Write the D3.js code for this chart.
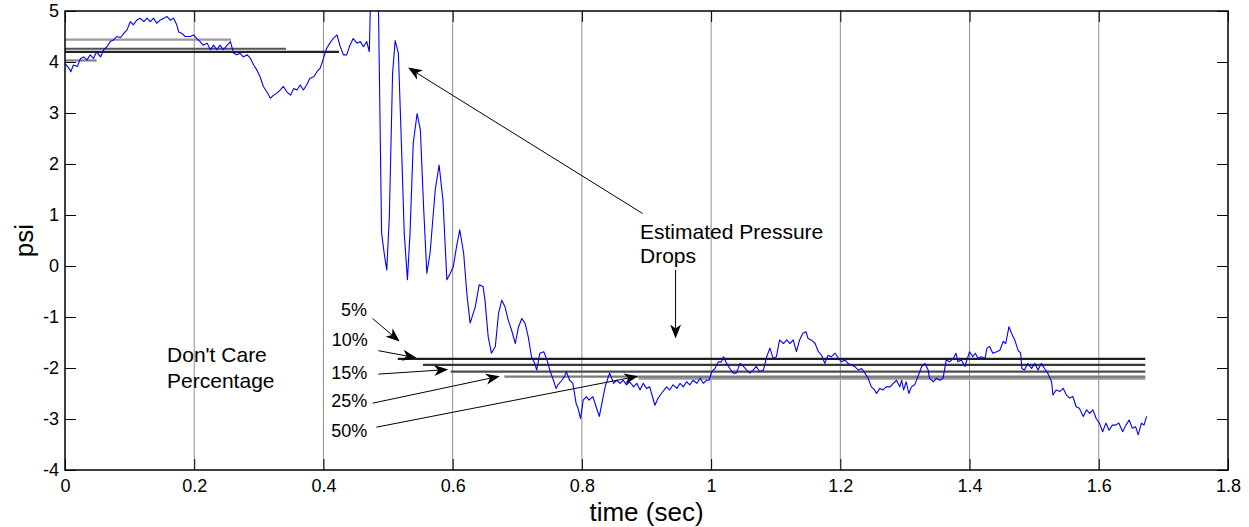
<!DOCTYPE html>
<html>
<head>
<meta charset="utf-8">
<script src="https://cdn.jsdelivr.net/npm/d3@7"></script>
<style>
  html, body { margin: 0; padding: 0; background: #fff; }
  svg { display: block; font-family: "Liberation Sans", Arial, sans-serif; }
</style>
</head>
<body>
<div id="chart"></div>
<script>
// axis ticks
const xTicks = [0, 0.2, 0.4, 0.6, 0.8, 1, 1.2, 1.4, 1.6, 1.8];
const xTickLabels = ["0", "0.2", "0.4", "0.6", "0.8", "1", "1.2", "1.4", "1.6", "1.8"];
const yTicks = [-4, -3, -2, -1, 0, 1, 2, 3, 4, 5];
const yTickLabels = ["-4", "-3", "-2", "-1", "0", "1", "2", "3", "4", "5"];

// measured pressure trace [time (sec), psi]
const pressureTrace = [
  [0.000,3.97],[0.006,3.88],[0.009,3.81],[0.013,3.94],[0.019,3.91],[0.024,4.07],[0.029,4.10],[0.034,4.04],
  [0.039,4.14],[0.044,4.07],[0.049,4.20],[0.055,4.10],[0.060,4.24],[0.065,4.30],[0.070,4.40],[0.075,4.43],
  [0.080,4.50],[0.086,4.48],[0.091,4.56],[0.096,4.63],[0.101,4.79],[0.106,4.73],[0.111,4.82],[0.116,4.86],
  [0.122,4.79],[0.127,4.86],[0.132,4.79],[0.137,4.86],[0.142,4.76],[0.147,4.82],[0.153,4.86],[0.158,4.89],
  [0.163,4.82],[0.168,4.86],[0.173,4.73],[0.176,4.59],[0.181,4.56],[0.186,4.50],[0.194,4.50],[0.199,4.53],
  [0.204,4.46],[0.209,4.40],[0.214,4.33],[0.220,4.37],[0.225,4.24],[0.230,4.33],[0.235,4.24],[0.240,4.33],
  [0.245,4.24],[0.251,4.33],[0.256,4.40],[0.261,4.17],[0.266,4.14],[0.271,4.17],[0.276,4.10],[0.282,4.14],
  [0.287,4.07],[0.292,3.94],[0.297,3.84],[0.302,3.71],[0.307,3.52],[0.312,3.42],[0.318,3.29],[0.323,3.35],
  [0.328,3.39],[0.333,3.45],[0.338,3.52],[0.343,3.42],[0.349,3.35],[0.354,3.48],[0.359,3.45],[0.364,3.55],
  [0.369,3.45],[0.374,3.55],[0.379,3.68],[0.385,3.71],[0.390,3.81],[0.395,3.88],[0.400,4.07],[0.405,4.27],
  [0.410,4.37],[0.415,4.46],[0.421,4.53],[0.426,4.30],[0.431,4.14],[0.436,4.14],[0.441,4.33],[0.446,4.46],
  [0.452,4.37],[0.457,4.40],[0.462,4.30],[0.467,4.40],[0.471,4.20],
  [0.474,5.90],[0.480,6.20],[0.485,5.20],[0.490,0.65],[0.494,0.25],[0.498,-0.08],[0.502,0.97],[0.507,3.78],
  [0.511,4.42],[0.516,4.17],[0.521,2.27],[0.525,0.65],[0.530,-0.27],[0.534,0.65],[0.539,2.41],[0.545,2.99],
  [0.550,2.67],[0.555,1.16],[0.560,-0.14],[0.565,0.25],[0.573,1.49],[0.579,1.98],[0.585,1.29],[0.591,-0.27],
  [0.596,-0.15],[0.601,-0.01],[0.606,0.38],[0.611,0.71],[0.617,0.25],[0.622,-0.55],[0.627,-1.12],[0.635,-0.80],
  [0.641,-0.37],[0.647,-0.40],[0.650,-0.67],[0.655,-1.39],[0.660,-1.71],[0.666,-1.58],[0.671,-0.93],[0.676,-0.67],
  [0.681,-0.80],[0.686,-1.06],[0.691,-1.25],[0.697,-1.52],[0.702,-1.19],[0.707,-1.03],[0.712,-1.12],[0.717,-1.39],
  [0.722,-1.78],[0.727,-1.91],[0.730,-2.04],[0.735,-1.71],[0.741,-1.68],[0.746,-1.84],[0.751,-2.07],[0.756,-2.24],
  [0.760,-2.40],[0.763,-2.33],[0.769,-2.24],[0.773,-2.17],[0.776,-2.07],[0.781,-2.24],[0.786,-2.30],[0.791,-2.69],
  [0.794,-2.79],[0.798,-2.99],[0.802,-2.63],[0.807,-2.56],[0.811,-2.63],[0.817,-2.56],[0.822,-2.76],[0.827,-2.95],
  [0.831,-2.69],[0.836,-2.37],[0.841,-2.17],[0.843,-2.10],[0.849,-2.30],[0.854,-2.24],[0.859,-2.30],[0.864,-2.24],
  [0.869,-2.33],[0.874,-2.27],[0.880,-2.37],[0.885,-2.30],[0.890,-2.43],[0.895,-2.30],[0.900,-2.40],[0.905,-2.37],
  [0.913,-2.73],[0.918,-2.59],[0.923,-2.50],[0.931,-2.37],[0.936,-2.43],[0.941,-2.33],[0.947,-2.40],[0.952,-2.30],
  [0.957,-2.37],[0.962,-2.27],[0.967,-2.33],[0.972,-2.24],[0.978,-2.30],[0.983,-2.20],[0.988,-2.30],[0.993,-2.24],
  [0.997,-2.24],[1.001,-2.07],[1.006,-2.01],[1.011,-1.88],[1.016,-1.88],[1.019,-1.78],[1.024,-1.91],[1.029,-2.01],
  [1.034,-2.10],[1.039,-2.10],[1.045,-1.91],[1.050,-1.97],[1.055,-2.04],[1.060,-2.10],[1.065,-2.04],[1.070,-1.97],
  [1.075,-2.07],[1.081,-2.04],[1.086,-1.78],[1.091,-1.61],[1.096,-1.81],[1.101,-1.78],[1.106,-1.45],[1.112,-1.52],
  [1.117,-1.45],[1.122,-1.52],[1.127,-1.45],[1.132,-1.68],[1.137,-1.45],[1.142,-1.32],[1.147,-1.29],[1.150,-1.42],
  [1.155,-1.45],[1.161,-1.52],[1.166,-1.68],[1.171,-1.75],[1.176,-1.91],[1.181,-1.75],[1.186,-1.78],[1.192,-1.71],
  [1.197,-1.81],[1.202,-1.88],[1.207,-1.84],[1.212,-1.91],[1.217,-1.94],[1.222,-1.97],[1.228,-2.04],[1.233,-2.01],
  [1.238,-2.10],[1.243,-2.20],[1.248,-2.37],[1.253,-2.43],[1.256,-2.50],[1.261,-2.40],[1.266,-2.43],[1.271,-2.37],
  [1.277,-2.37],[1.282,-2.30],[1.287,-2.24],[1.292,-2.37],[1.295,-2.24],[1.298,-2.43],[1.302,-2.27],[1.306,-2.50],
  [1.310,-2.37],[1.315,-2.33],[1.320,-2.17],[1.326,-1.97],[1.331,-1.91],[1.336,-2.04],[1.338,-2.20],[1.344,-2.27],
  [1.349,-2.20],[1.354,-2.24],[1.359,-2.20],[1.364,-1.84],[1.369,-1.88],[1.375,-1.81],[1.379,-1.71],[1.382,-1.88],
  [1.387,-1.84],[1.393,-1.97],[1.395,-1.88],[1.400,-1.68],[1.405,-1.78],[1.409,-1.71],[1.413,-1.81],[1.418,-1.78],
  [1.424,-1.81],[1.427,-1.61],[1.431,-1.58],[1.436,-1.71],[1.442,-1.68],[1.447,-1.65],[1.452,-1.48],[1.456,-1.52],
  [1.461,-1.19],[1.466,-1.35],[1.470,-1.45],[1.475,-1.65],[1.479,-1.71],[1.481,-2.01],[1.485,-2.04],[1.490,-1.91],
  [1.496,-2.01],[1.501,-1.91],[1.506,-2.04],[1.511,-1.91],[1.516,-2.01],[1.521,-2.10],[1.527,-2.27],[1.529,-2.53],
  [1.534,-2.43],[1.540,-2.46],[1.545,-2.40],[1.550,-2.53],[1.555,-2.59],[1.560,-2.56],[1.565,-2.76],[1.570,-2.79],
  [1.576,-2.95],[1.581,-2.82],[1.586,-2.89],[1.591,-2.82],[1.596,-2.99],[1.601,-3.08],[1.606,-3.25],[1.611,-3.08],
  [1.616,-3.22],[1.621,-3.12],[1.626,-3.12],[1.631,-3.08],[1.637,-3.25],[1.642,-3.12],[1.647,-3.02],[1.652,-3.18],
  [1.657,-3.15],[1.661,-3.31],[1.666,-3.08],[1.670,-3.12],[1.674,-2.95]
];

// estimated pressure levels before the drop
const preLevel = [4.44, 4.26, 4.20, 4.03];
const preEnd = [0.257, 0.342, 0.424, 0.049];

// estimated pressure levels after the drop (5%, 10%, 15%, 25%, 50%)
const dropPercent = ["5%", "10%", "15%", "25%", "50%"];
const dropLevel = [-1.82, -1.94, -2.07, -2.17, -2.20];
const dropStart = [0.515, 0.554, 0.597, 0.680, 0.888];
const dropEnd = 1.672;

const preColors = ["#9a9a9a", "#555555", "#222222", "#808080"];
const dropColors = ["#1e1e1e", "#383838", "#4c4c4c", "#7c7c7c", "#999999"];

const width = 1249, height = 527;
const margin = { top: 11, right: 21, bottom: 57, left: 65 };

const svg = d3.select('#chart').append('svg')
  .attr('width', width)
  .attr('height', height);

const x = d3.scaleLinear().domain([0, 1.8]).range([margin.left, width - margin.right]);
const y = d3.scaleLinear().domain([-4, 5]).range([height - margin.bottom, margin.top]);

svg.append('clipPath').attr('id', 'plot-clip')
  .append('rect')
  .attr('x', x(0)).attr('y', y(5))
  .attr('width', x(1.8) - x(0)).attr('height', y(-4) - y(5));

// vertical grid
svg.append('g')
  .selectAll('line')
  .data(xTicks.slice(1, -1))
  .enter()
  .append('line')
  .attr('x1', d => x(d)).attr('x2', d => x(d))
  .attr('y1', y(5)).attr('y2', y(-4))
  .attr('stroke', '#909090')
  .attr('stroke-width', 1);

// axes, ticks pointing inward like matlab
const tickLen = 11;
const styleAxis = g => {
  g.select('.domain').remove();
  g.selectAll('.tick line').attr('stroke', '#000');
  g.selectAll('.tick text').attr('fill', '#000').style('font-size', '18px');
};

svg.append('g')
  .attr('transform', `translate(0,${y(-4)})`)
  .call(d3.axisBottom(x).tickValues(xTicks).tickFormat((d, i) => xTickLabels[i])
    .tickSizeInner(-tickLen).tickSizeOuter(0).tickPadding(9))
  .call(styleAxis);

svg.append('g')
  .attr('transform', `translate(0,${y(5)})`)
  .call(d3.axisTop(x).tickValues(xTicks).tickFormat('')
    .tickSizeInner(-tickLen).tickSizeOuter(0))
  .call(styleAxis);

svg.append('g')
  .attr('transform', `translate(${x(0)},0)`)
  .call(d3.axisLeft(y).tickValues(yTicks).tickFormat((d, i) => yTickLabels[i])
    .tickSizeInner(-tickLen).tickSizeOuter(0).tickPadding(6))
  .call(styleAxis);

svg.append('g')
  .attr('transform', `translate(${x(1.8)},0)`)
  .call(d3.axisRight(y).tickValues(yTicks).tickFormat('')
    .tickSizeInner(-tickLen).tickSizeOuter(0))
  .call(styleAxis);

// estimated level lines
const levels = svg.append('g').attr('clip-path', 'url(#plot-clip)');

levels.selectAll('.pre')
  .data(preLevel)
  .enter()
  .append('line')
  .attr('class', 'pre')
  .attr('x1', x(0))
  .attr('x2', (d, i) => x(preEnd[i]))
  .attr('y1', d => y(d)).attr('y2', d => y(d))
  .attr('stroke', (d, i) => preColors[i])
  .attr('stroke-width', 2.2);

// draw the lighter ones first so the darker stay on top
const dropOrder = [4, 3, 2, 1, 0];
levels.selectAll('.drop')
  .data(dropOrder)
  .enter()
  .append('line')
  .attr('class', 'drop')
  .attr('x1', i => x(dropStart[i]))
  .attr('x2', x(dropEnd))
  .attr('y1', i => y(dropLevel[i])).attr('y2', i => y(dropLevel[i]))
  .attr('stroke', i => dropColors[i])
  .attr('stroke-width', i => i === 4 ? 3 : 2.2);

// pressure trace
const line = d3.line().x(d => x(d[0])).y(d => y(d[1]));
svg.append('path')
  .datum(pressureTrace)
  .attr('clip-path', 'url(#plot-clip)')
  .attr('d', line)
  .attr('fill', 'none')
  .attr('stroke', '#0000ff')
  .attr('stroke-width', 1.1)
  .attr('stroke-linejoin', 'round');

// box
svg.append('rect')
  .attr('x', x(0)).attr('y', y(5))
  .attr('width', x(1.8) - x(0)).attr('height', y(-4) - y(5))
  .attr('fill', 'none')
  .attr('stroke', '#000')
  .attr('stroke-width', 1.5);

// annotations (data coordinates)
const arrows = [
  { from: [0.894, 1.03], to: [0.531, 3.89] },
  { from: [0.945, -0.08], to: [0.945, -1.42] },
  { from: [0.476, -1.03], to: [0.518, -1.48] },
  { from: [0.485, -1.66], to: [0.544, -1.80] },
  { from: [0.485, -2.12], to: [0.593, -2.03] },
  { from: [0.476, -2.69], to: [0.673, -2.16] },
  { from: [0.482, -3.16], to: [0.887, -2.16] }
];

const arrowG = svg.append('g');
arrows.forEach(a => {
  const x1 = x(a.from[0]), y1 = y(a.from[1]);
  const x2 = x(a.to[0]), y2 = y(a.to[1]);
  const len = Math.hypot(x2 - x1, y2 - y1);
  const ux = (x2 - x1) / len, uy = (y2 - y1) / len;
  const nx = -uy, ny = ux;
  const hl = 14, hw = 5.5, notch = 4;
  arrowG.append('line')
    .attr('x1', x1).attr('y1', y1)
    .attr('x2', x2 - ux * (hl - notch)).attr('y2', y2 - uy * (hl - notch))
    .attr('stroke', '#000').attr('stroke-width', 1);
  const pts = [
    [x2, y2],
    [x2 - ux * hl + nx * hw, y2 - uy * hl + ny * hw],
    [x2 - ux * (hl - notch), y2 - uy * (hl - notch)],
    [x2 - ux * hl - nx * hw, y2 - uy * hl - ny * hw]
  ];
  arrowG.append('path')
    .attr('d', 'M' + pts.map(p => p.join(',')).join('L') + 'Z')
    .attr('fill', '#000');
});

const notes = [
  { text: 'Estimated Pressure', t: 0.890, v: 0.52, size: 21 },
  { text: 'Drops', t: 0.890, v: 0.05, size: 21 },
  { text: "Don't Care", t: 0.158, v: -1.88, size: 21 },
  { text: 'Percentage', t: 0.158, v: -2.39, size: 21 }
];
const pctPos = [[0.427, -0.98], [0.413, -1.57], [0.412, -2.22], [0.412, -2.77], [0.412, -3.36]];
dropPercent.forEach((p, i) => notes.push({ text: p, t: pctPos[i][0], v: pctPos[i][1], size: 18 }));

svg.append('g')
  .selectAll('text')
  .data(notes)
  .enter()
  .append('text')
  .attr('x', d => x(d.t))
  .attr('y', d => y(d.v))
  .style('font-size', d => d.size + 'px')
  .attr('fill', '#000')
  .text(d => d.text);

// axis labels
svg.append('text')
  .attr('x', (x(0) + x(1.8)) / 2)
  .attr('y', 521)
  .attr('text-anchor', 'middle')
  .style('font-size', '26px')
  .text('time (sec)');

svg.append('text')
  .attr('transform', `translate(33,${(y(5) + y(-4)) / 2}) rotate(-90)`)
  .attr('text-anchor', 'middle')
  .style('font-size', '26px')
  .text('psi');
</script>
</body>
</html>
